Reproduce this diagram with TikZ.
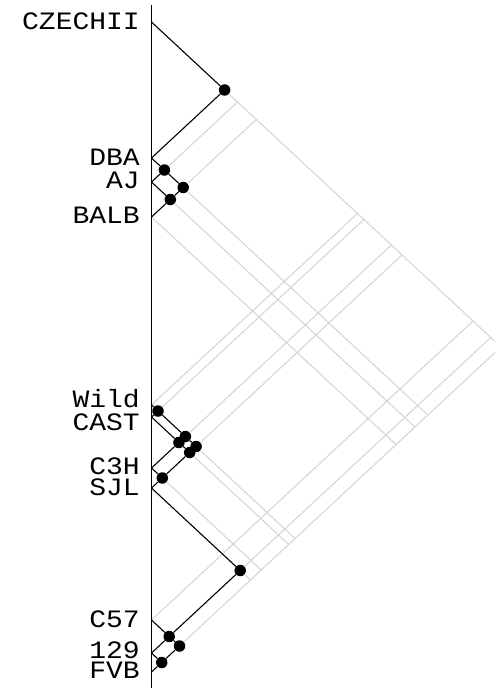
\documentclass[tikz,border=0pt]{standalone}
\usepackage{fontspec}
\setmonofont[FakeStretch=1.12]{Liberation Mono}
\usepackage{tikz}
\definecolor{trailgray}{RGB}{211,211,211}

\begin{document}
\begin{tikzpicture}[
  x=1pt, y=-1pt,
  lbl/.style={anchor=east, inner sep=0pt, text height=15pt, text depth=0pt,
    font=\ttfamily\fontsize{25}{27}\selectfont},
  dot/.style={circle, fill=black, inner sep=0pt, minimum size=11.5pt},
  link/.style={draw, line width=1.1pt},
  trail/.style={draw=trailgray, line width=1pt}
]
\clip (0,0) rectangle (495,690);

% axis and leaves
\coordinate (axtop) at (151.5,5);
\coordinate (axbot) at (151.5,688);
\coordinate (czechii) at (151.5,22);
\coordinate (dba)     at (151.5,158);
\coordinate (aj)      at (151.5,182);
\coordinate (balb)    at (151.5,217);
\coordinate (wild)    at (151.5,405);
\coordinate (cast)    at (151.5,417);
\coordinate (c3h)     at (151.5,468);
\coordinate (sjl)     at (151.5,488);
\coordinate (c57)     at (151.5,620);
\coordinate (129)     at (151.5,653);
\coordinate (fvb)     at (151.5,672);

\node[lbl] (czechii-lbl) at (140,22)  {CZECHII};
\node[lbl] (dba-lbl)     at (140,158) {DBA};
\node[lbl] (aj-lbl)      at (140,181) {AJ};
\node[lbl] (balb-lbl)    at (140,216) {BALB};
\node[lbl] (wild-lbl)    at (140,400) {Wild};
\node[lbl] (cast-lbl)    at (140,423) {CAST};
\node[lbl] (c3h-lbl)     at (140,467) {C3H};
\node[lbl] (sjl-lbl)     at (140,488) {SJL};
\node[lbl] (c57-lbl)     at (140,620) {C57};
\node[lbl] (129-lbl)     at (140,651) {129};
\node[lbl] (fvb-lbl)     at (140,671) {FVB};

% clusters
\node[dot] (cz-dba)    at (224.6,90)    {};
\node[dot] (dba-aj)    at (164.4,170)   {};
\node[dot] (aj-balb)   at (170.3,199.5) {};
\node[dot] (dba-balb)  at (183.2,187.5) {};
\node[dot] (wild-cast) at (158.0,411)   {};
\node[dot] (cast-c3h)  at (178.9,442.5) {};
\node[dot] (c3h-sjl)   at (162.3,478)   {};
\node[dot] (wild-c3h)  at (185.4,436.5) {};
\node[dot] (cast-sjl)  at (189.7,452.5) {};
\node[dot] (wild-sjl)  at (196.1,446.5) {};
\node[dot] (sjl-129)   at (240.2,570.5) {};
\node[dot] (c57-129)   at (169.2,636.5) {};
\node[dot] (129-fvb)   at (161.7,662.5) {};
\node[dot] (c57-fvb)   at (179.5,646)   {};

% where the trails stop
\coordinate (cz-aj)     at (237.5,102);
\coordinate (cz-balb)   at (256.3,119.5);
\coordinate (cz-wild)   at (357.4,213.5);
\coordinate (cz-cast)   at (363.9,219.5);
\coordinate (cz-c3h)    at (391.3,245);
\coordinate (cz-sjl)    at (402.0,255);
\coordinate (cz-c57)    at (473.0,321);
\coordinate (cz-129)    at (490.7,337.5);
\coordinate (cz-fvb)    at (501.0,347);
\coordinate (dba-fvb)   at (427.8,415);
\coordinate (aj-fvb)    at (414.9,427);
\coordinate (balb-fvb)  at (396.1,444.5);
\coordinate (wild-fvb)  at (295.0,538.5);
\coordinate (cast-fvb)  at (288.6,544.5);
\coordinate (c3h-fvb)   at (261.2,570);
\coordinate (sjl-fvb)   at (250.4,580);

\draw[trail] (dba-aj) -- (cz-aj);
\draw[trail] (dba-balb) -- (cz-balb);
\draw[trail] (wild) -- (cz-wild);
\draw[trail] (wild-cast) -- (cz-cast);
\draw[trail] (wild-c3h) -- (cz-c3h);
\draw[trail] (wild-sjl) -- (cz-sjl);
\draw[trail] (c57) -- (cz-c57);
\draw[trail] (sjl-129) -- (cz-129);
\draw[trail] (c57-fvb) -- (cz-fvb);
\draw[trail] (cz-dba) -- (cz-fvb);
\draw[trail] (dba-balb) -- (dba-fvb);
\draw[trail] (aj-balb) -- (aj-fvb);
\draw[trail] (balb) -- (balb-fvb);
\draw[trail] (wild-sjl) -- (wild-fvb);
\draw[trail] (cast-sjl) -- (cast-fvb);
\draw[trail] (c3h-sjl) -- (c3h-fvb);
\draw[trail] (sjl-129) -- (sjl-fvb);

\draw[line width=1.3pt] (axtop) -- (axbot);

\draw[link] (czechii) -- (cz-dba);
\draw[link] (dba) -- (cz-dba);
\draw[link] (dba) -- (dba-aj);
\draw[link] (aj) -- (dba-aj);
\draw[link] (aj) -- (aj-balb);
\draw[link] (balb) -- (aj-balb);
\draw[link] (dba-aj) -- (dba-balb);
\draw[link] (aj-balb) -- (dba-balb);

\draw[link] (wild) -- (wild-cast);
\draw[link] (cast) -- (wild-cast);
\draw[link] (cast) -- (cast-c3h);
\draw[link] (c3h) -- (cast-c3h);
\draw[link] (c3h) -- (c3h-sjl);
\draw[link] (sjl) -- (c3h-sjl);
\draw[link] (wild-cast) -- (wild-c3h);
\draw[link] (cast-c3h) -- (wild-c3h);
\draw[link] (cast-c3h) -- (cast-sjl);
\draw[link] (c3h-sjl) -- (cast-sjl);
\draw[link] (wild-c3h) -- (wild-sjl);
\draw[link] (cast-sjl) -- (wild-sjl);

\draw[link] (sjl) -- (sjl-129);
\draw[link] (c57-129) -- (sjl-129);
\draw[link] (c57) -- (c57-129);
\draw[link] (129) -- (c57-129);
\draw[link] (129) -- (129-fvb);
\draw[link] (fvb) -- (129-fvb);
\draw[link] (c57-129) -- (c57-fvb);
\draw[link] (129-fvb) -- (c57-fvb);

\end{tikzpicture}
\end{document}
